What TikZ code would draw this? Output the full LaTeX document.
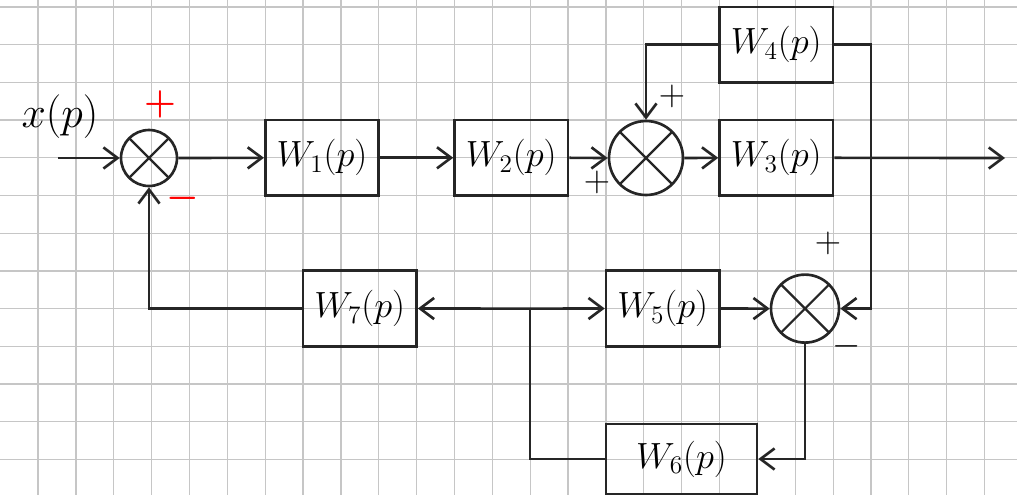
\documentclass[tikz,border=0pt]{standalone}
\usepackage{amsmath,bm}
\usetikzlibrary{arrows.meta, calc}

\begin{document}
\begin{tikzpicture}[x=0.02cm, y=-0.02cm, >={Straight Barb[length=8pt,width=12pt]},
  gridline/.style={gray!45, line width=0.7pt},
  sig/.style={black!85, line width=1.5pt},
  block/.style={draw=black!85, line width=1.5pt, minimum width=2.27cm, minimum height=1.51cm,
    inner sep=0pt, font=\fontsize{20}{24}\selectfont},
  sumnode/.style={circle, draw=black!85, line width=1.5pt, inner sep=0pt,
    path picture={\draw[black!85, line width=1.3pt]
      (path picture bounding box.north west) -- (path picture bounding box.south east)
      (path picture bounding box.north east) -- (path picture bounding box.south west);}},
  signlbl/.style={font=\fontsize{22}{24}\selectfont}]
  \useasboundingbox (0,0) rectangle (1017,495);
  % squared paper
  \fill[white] (0,0) rectangle (1017,495);
  \foreach \k in {1,...,26} \draw[gridline] ({0.2+37.86*\k},0) -- ({0.2+37.86*\k},495);
  \foreach \k in {0,...,13} \draw[gridline] (0,{7+37.7*\k}) -- (1017,{7+37.7*\k});
  % summing points
  \node[sumnode, minimum size=1.12cm] (S1) at (149,158) {};
  \node[sumnode, minimum size=1.48cm] (S2) at (646,158) {};
  \node[sumnode, minimum size=1.36cm] (S3) at (805,308.6) {};
  % blocks
  \node[block] (W1) at (322,157.8) {$W_1(p)$};
  \node[block] (W2) at (511.3,157.8) {$W_2(p)$};
  \node[block] (W3) at (776.3,157.8) {$W_3(p)$};
  \node[block] (W4) at (776.3,44.7) {$W_4(p)$};
  \node[block] (W5) at (662.8,308.5) {$W_5(p)$};
  \node[block, minimum width=3.02cm, minimum height=1.4cm] (W6) at (681.5,459) {$W_6(p)$};
  \node[block] (W7) at (359.8,308.5) {$W_7(p)$};
  % free ends and branch points
  \coordinate (in) at (58,158);
  \coordinate (out) at (1005,158);
  \coordinate (rt) at (871,158);
  \coordinate (jn) at (530,308.6);
  % input label and signs
  \node[font=\fontsize{23}{26}\selectfont] (xin) at (60,117) {$x(p)$};
  \node[signlbl, red] (p1) at (160,104) {$\bm{+}$};
  \node[signlbl, red] (m1) at (183,198) {$\bm{-}$};
  \node[signlbl] (p2) at (672,96) {$+$};
  \node[signlbl] (p3) at (597,182) {$+$};
  \node[signlbl] (p4) at (828,243) {$+$};
  \node[signlbl] (m3) at (847,346) {$-$};
  % forward path
  \draw[sig,->] (in) -- (S1.west);
  \draw[sig,->] (S1.east) -- (W1.west);
  \draw[sig,->] (W1.east) -- (W2.west);
  \draw[sig,->] (W2.east) -- (S2.west);
  \draw[sig,->] (S2.east) -- (W3.west);
  \draw[sig,->] (W3.east) -- (out);
  % local loop through W4
  \draw[sig] (rt) |- (W4.east);
  \draw[sig,->] (W4.west) -| (S2.north);
  % lower loops
  \draw[sig,->] (rt) |- (S3.east);
  \draw[sig,->] (W5.east) -- (S3.west);
  \draw[sig,->] (S3.south) |- (W6.east);
  \draw[sig] (W6.west) -| (jn);
  \draw[sig,->] (jn) -- (W5.west);
  \draw[sig,->] (jn) -- (W7.east);
  \draw[sig,->] (W7.west) -| (S1.south);
\end{tikzpicture}
\end{document}
